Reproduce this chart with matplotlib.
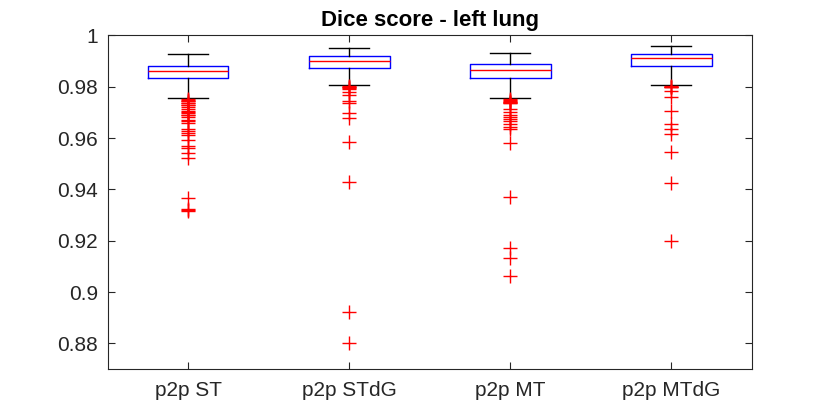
import numpy as np
import matplotlib.pyplot as plt

plt.rcParams['font.family'] = ['Liberation Sans', 'DejaVu Sans']

# Datos
etiquetas = ['p2p ST', 'p2p STdG', 'p2p MT', 'p2p MTdG']
q1 = [0.9832, 0.9874, 0.9834, 0.9879]
mediana = [0.9863, 0.9900, 0.9866, 0.9911]
q3 = [0.9882, 0.9919, 0.9887, 0.9927]
bigote_inf = [0.9756, 0.9806, 0.9754, 0.9808]
bigote_sup = [0.9927, 0.9950, 0.9931, 0.9959]

atipicos_st = [0.9752, 0.9750, 0.9746, 0.9743, 0.9738, 0.9735, 0.9730, 0.9727,
               0.9720, 0.9712, 0.9704, 0.9700, 0.9696, 0.9690, 0.9688, 0.9680,
               0.9672, 0.9665, 0.9657, 0.9634, 0.9626, 0.9618, 0.9610, 0.9594,
               0.9568, 0.9561, 0.9542, 0.9524, 0.9365, 0.9322, 0.9318, 0.9316]
atipicos_stdg = [0.9803, 0.9800, 0.9797, 0.9795, 0.9792, 0.9779, 0.9766,
                 0.9745, 0.9737, 0.9696, 0.9678, 0.9584, 0.9428, 0.8922, 0.8800]
atipicos_mt = [0.9751, 0.9749, 0.9745, 0.9742, 0.9740, 0.9737, 0.9735, 0.9712,
               0.9701, 0.9690, 0.9683, 0.9675, 0.9665, 0.9654, 0.9644, 0.9636,
               0.9579, 0.9371, 0.9170, 0.9133, 0.9063]
atipicos_mtdg = [0.9803, 0.9800, 0.9798, 0.9797, 0.9784, 0.9758, 0.9706,
                 0.9654, 0.9636, 0.9615, 0.9545, 0.9423, 0.9199]
atipicos = [atipicos_st, atipicos_stdg, atipicos_mt, atipicos_mtdg]

# Armar las estadisticas para bxp
stats = []
for i in range(len(etiquetas)):
    stats.append({'med': mediana[i], 'q1': q1[i], 'q3': q3[i],
                  'whislo': bigote_inf[i], 'whishi': bigote_sup[i],
                  'fliers': atipicos[i], 'label': etiquetas[i]})

gris = (0.15, 0.15, 0.15)
fig = plt.figure(figsize=(8.3, 4.16), dpi=100)
ax = fig.add_axes([0.1298, 0.113, 0.776, 0.802])

ax.bxp(stats, widths=0.5, showfliers=True,
       boxprops=dict(color='blue', linewidth=1),
       medianprops=dict(color='red', linewidth=1),
       whiskerprops=dict(color='black', linewidth=1),
       capprops=dict(color='black', linewidth=1),
       capwidths=0.25,
       flierprops=dict(marker='+', markeredgecolor='red', markersize=10,
                       markeredgewidth=1, linestyle='none'))

ax.set_xlim(0.5, 4.5)
ax.set_ylim(0.87, 1.0)
ax.set_yticks([0.88, 0.9, 0.92, 0.94, 0.96, 0.98, 1.0])
ax.set_yticklabels(['0.88', '0.9', '0.92', '0.94', '0.96', '0.98', '1'])
ax.tick_params(direction='in', top=True, right=True, length=5,
               labelsize=15, colors=gris, labelcolor=gris)
ax.tick_params(axis='x', pad=9)
ax.tick_params(axis='y', pad=7)
for lado in ax.spines.values():
    lado.set_color(gris)
    lado.set_linewidth(0.8)

ax.set_title('Dice score - left lung', fontsize=16, fontweight='bold', pad=7)

fig.savefig('out.png', dpi=100)
